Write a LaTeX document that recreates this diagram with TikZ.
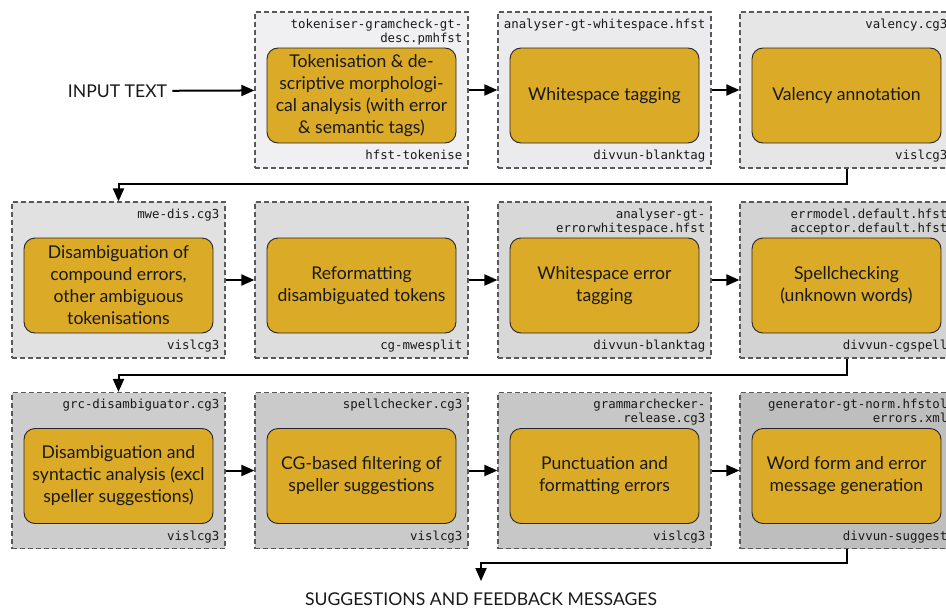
\documentclass[tikz,border=0pt]{standalone}
\usepackage{fontspec}
\setmainfont{Lato}
\setmonofont{DejaVu Sans Mono}
\usetikzlibrary{arrows.meta}
\definecolor{gold}{RGB}{219,170,39}
\definecolor{g12}{RGB}{240,240,242}
\definecolor{g13}{RGB}{235,234,237}
\definecolor{g14}{RGB}{230,230,231}
\definecolor{g21}{RGB}{225,225,225}
\definecolor{g22}{RGB}{221,221,221}
\definecolor{g23}{RGB}{216,216,216}
\definecolor{g24}{RGB}{211,211,211}
\definecolor{g31}{RGB}{205,205,205}
\definecolor{g32}{RGB}{202,202,202}
\definecolor{g33}{RGB}{199,199,199}
\definecolor{g34}{RGB}{190,190,190}
\newcommand\stagebox[7]{%
  \node[outerbox, fill=#4] (o#1) at (#2,#3) {};
  \node[innerbox] (i#1) at (#2,#3+5.5) {#6};
  \node[toplab] (t#1) at ([xshift=-6pt,yshift=-7pt]o#1.north east) {#5};
  \node[botlab] (b#1) at ([xshift=-6pt,yshift=9pt]o#1.south east) {#7};
}
\begin{document}
\begin{tikzpicture}[x=1pt,y=-1pt,
  outerbox/.style={draw=black!65, dash pattern=on 5pt off 3pt, line width=1.2pt,
    minimum width=213pt, minimum height=156pt, inner sep=0pt},
  innerbox/.style={draw=black!85, line width=0.9pt, fill=gold, rounded corners=11pt,
    minimum width=189pt, minimum height=95pt, align=center, inner sep=0pt,
    text=black!90, font=\fontsize{17.6}{22}\selectfont},
  toplab/.style={anchor=north east, align=right, inner sep=0pt, text=black!90,
    font=\ttfamily\fontsize{12.4}{14}\selectfont},
  botlab/.style={anchor=base east, inner sep=0pt, text=black!90,
    font=\ttfamily\fontsize{12.4}{14}\selectfont},
  conn/.style={line width=2pt, -{Triangle[length=13pt,width=11pt]}},
  plaintext/.style={text=black!90, font=\fontsize{17.6}{22}\selectfont}
]
\useasboundingbox (0,0) rectangle (946,608);
\fill[white] (0,0) rectangle (946,608);
\clip (0,0) rectangle (946,608);

\node[plaintext, inner sep=5pt] (input) at (117.5,91) {INPUT TEXT};

\stagebox{12}{361.5}{90}{g12}{tokeniser-gramcheck-gt-\\desc.pmhfst}{Tokenisation \& de-\\scriptive morphologi-\\cal analysis (with error\\\& semantic tags)}{hfst-tokenise}
\stagebox{13}{604.5}{90}{g13}{analyser-gt-whitespace.hfst}{Whitespace tagging}{divvun-blanktag}
\stagebox{14}{846.5}{90}{g14}{valency.cg3}{Valency annotation}{vislcg3}

\stagebox{21}{118.5}{280}{g21}{mwe-dis.cg3}{Disambiguation of\\compound errors,\\other ambiguous\\tokenisations}{vislcg3}
\node[outerbox, fill=g22] (o22) at (361.5,280) {};
\node[innerbox] (i22) at (361.5,285.5) {Reformatting\\disambiguated tokens};
\node[botlab] (b22) at ([xshift=-6pt,yshift=9pt]o22.south east) {cg-mwesplit};
\stagebox{23}{604.5}{280}{g23}{analyser-gt-\\errorwhitespace.hfst}{Whitespace error\\tagging}{divvun-blanktag}
\stagebox{24}{846.5}{280}{g24}{errmodel.default.hfst\\acceptor.default.hfst}{Spellchecking\\(unknown words)}{divvun-cgspell}

\stagebox{31}{118.5}{470.5}{g31}{grc-disambiguator.cg3}{Disambiguation and\\syntactic analysis (excl\\speller suggestions)}{vislcg3}
\stagebox{32}{361.5}{470.5}{g32}{spellchecker.cg3}{CG-based filtering of\\speller suggestions}{vislcg3}
\stagebox{33}{604.5}{470.5}{g33}{grammarchecker-\\release.cg3}{Punctuation and\\formatting errors}{vislcg3}
\stagebox{34}{846.5}{470.5}{g34}{generator-gt-norm.hfstol\\errors.xml}{Word form and error\\message generation}{divvun-suggest}

\node[plaintext, anchor=base, inner sep=0pt] (output) at (481,605) {SUGGESTIONS AND FEEDBACK MESSAGES};

\draw[conn] (input) -- (o12);
\draw[conn] (o12) -- (o13);
\draw[conn] (o13) -- (o14);
\draw[conn] (o14.south) -- ++(0,15) -| (o21.north);
\draw[conn] (o21) -- (o22);
\draw[conn] (o22) -- (o23);
\draw[conn] (o23) -- (o24);
\draw[conn] (o24.south) -- ++(0,16) -| (o31.north);
\draw[conn] (o31) -- (o32);
\draw[conn] (o32) -- (o33);
\draw[conn] (o33) -- (o34);
\draw[conn] (o34.south) -- ++(0,14) -| ([yshift=11pt]output.north);
\end{tikzpicture}
\end{document}
